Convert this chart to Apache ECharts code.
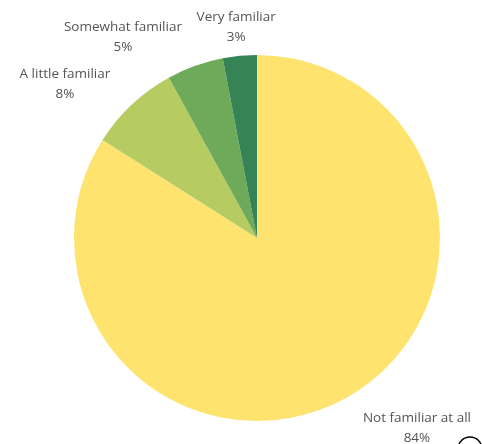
<!DOCTYPE html>
<html><head><meta charset="utf-8">
<script src="https://cdn.jsdelivr.net/npm/echarts@6/dist/echarts.min.js"></script>
<style>html,body{margin:0;padding:0;background:#fff}#c{width:482px;height:444px}</style>
</head><body><div id="c"></div>
<script>
const categories = ['Not familiar at all', 'A little familiar', 'Somewhat familiar', 'Very familiar'];
const values = [84, 8, 5, 3];
const colors = ['#FEE46F', '#B6CB62', '#6EAA5A', '#368455'];

const CX = 257, CY = 238, R = 183;
const FONT_SIZE = 13.5, LINE_H = 20;
const total = values.reduce((a, b) => a + b, 0);
const midAngles = [];
let acc = 0;
values.forEach(v => { midAngles.push((acc + v / 2) / total * 2 * Math.PI); acc += v; });

const ctx = document.createElement('canvas').getContext('2d');
ctx.font = FONT_SIZE + 'px "Open Sans"';
function textW(i) {
  return Math.max(ctx.measureText(categories[i]).width, ctx.measureText(values[i] + '%').width);
}

const chart = echarts.init(document.getElementById('c'), null, {renderer: 'canvas'});
chart.setOption({
  animation: false,
  series: [{
    type: 'pie',
    center: [CX, CY],
    radius: R,
    startAngle: 90,
    clockwise: true,
    data: categories.map((n, i) => ({name: n, value: values[i], itemStyle: {color: colors[i]}})),
    label: {
      show: true,
      position: 'outside',
      formatter: '{b}\n{c}%',
      fontFamily: 'Open Sans',
      fontSize: FONT_SIZE,
      lineHeight: LINE_H,
      color: '#555',
      overflow: 'none',
      width: 200,
      edgeDistance: 0
    },
    labelLine: {show: false},
    emphasis: {disabled: true},
    labelLayout: function (p) {
      const i = p.dataIndex;
      const a0 = midAngles[i];
      const s2 = Math.sin(2 * a0);
      const a = a0 + (4 * Math.PI / 180) * s2;
      const g = 10 + 7 * Math.abs(s2);
      const dx = Math.sin(a), dy = -Math.cos(a);
      const w = textW(i), h = LINE_H * 2;
      const px = CX + (R + g) * dx, py = CY + (R + g) * dy;
      const sx = Math.abs(dx) > 0.15 ? Math.sign(dx) : 0;
      const sy = Math.sign(dy);
      return {x: px + sx * w / 2, y: py + sy * h / 2 + 2, align: 'center', verticalAlign: 'middle'};
    }
  }],
  graphic: [{
    type: 'circle', shape: {cx: 470, cy: 449, r: 12},
    style: {fill: 'none', stroke: '#000', lineWidth: 1.5}
  }]
});
</script></body></html>
